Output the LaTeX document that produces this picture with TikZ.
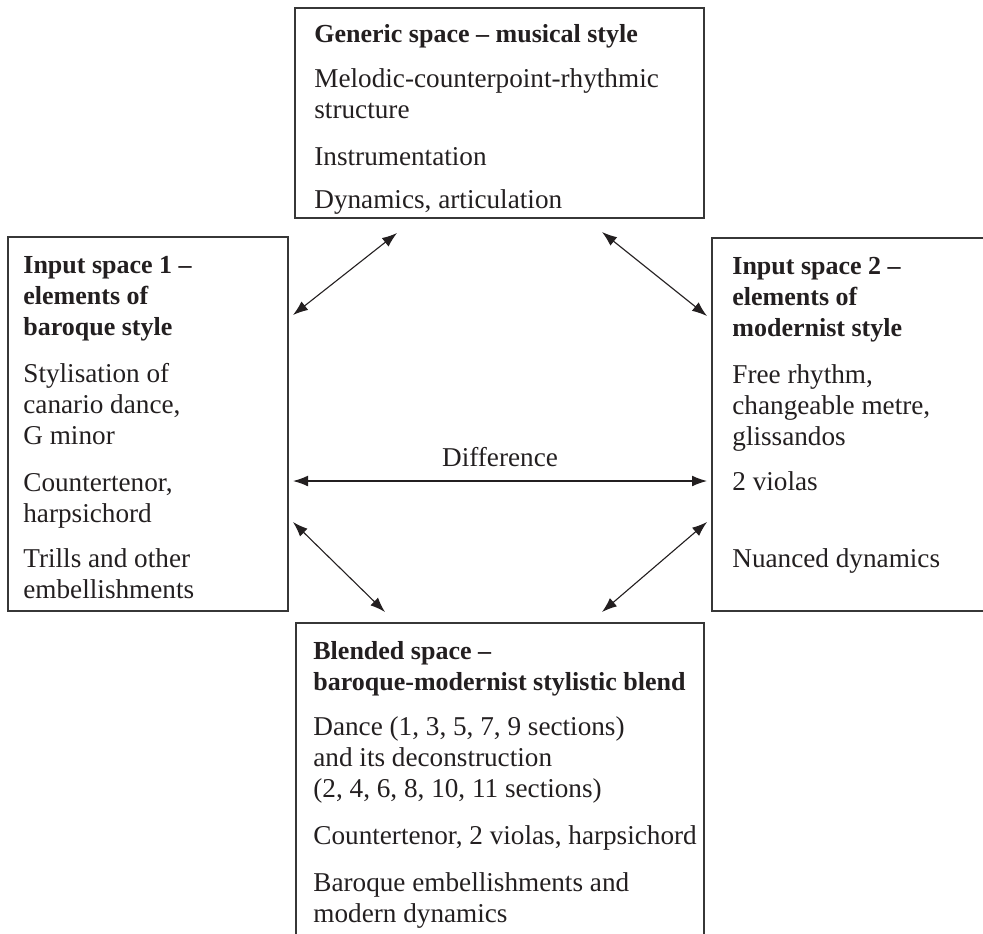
\documentclass[tikz,border=0pt]{standalone}
\usepackage{fontspec}
\setmainfont{Liberation Serif}
\usepackage{xcolor}
\usepackage{tikz}
\usetikzlibrary{arrows.meta}
\definecolor{inkcol}{RGB}{35,31,32}
\definecolor{framecol}{RGB}{55,55,55}
\newcommand{\spacehead}[1]{{\fontsize{13}{15.5}\selectfont\bfseries #1}}

\tikzset{
  spacetext/.style={anchor=base west, align=left, inner sep=0pt, text=inkcol,
    font=\fontsize{13.6}{15.5}\selectfont},
  spaceframe/.style={draw=framecol, line width=0.65pt},
  maplink/.style={draw=inkcol, line width=0.55pt,
    {Latex[length=7.5pt,width=5.4pt]}-{Latex[length=7.5pt,width=5.4pt]}}
}

\begin{document}
\begin{tikzpicture}[x=0.5pt, y=-0.5pt]
    \useasboundingbox (0,0) rectangle (983,933);
    \clip (0,0) rectangle (983,933);

    % Frames (input space 2 and the blend run off the page)
    \draw[spaceframe] (295,8) rectangle (704,218);
    \draw[spaceframe] (8,237) rectangle (288,611);
    \draw[spaceframe] (995,238) -- (712,238) -- (712,611) -- (995,611);
    \draw[spaceframe] (296,945) -- (296,623) -- (704,623) -- (704,945);

    % Generic space (placed by its last line)
    \node[spacetext] (generic) at (314,208) {\spacehead{Generic space – musical style}\\[7pt]
        Melodic-counterpoint-rhythmic\\ structure\\[8pt]
        Instrumentation\\[6pt]
        Dynamics, articulation};

    % Input spaces
    \node[spacetext] (inputone) at (23,598) {\spacehead{Input space 1 –}\\ \spacehead{elements of}\\ \spacehead{baroque style}\\[8pt]
        Stylisation of\\ canario dance,\\ G minor\\[8pt]
        Countertenor,\\ harpsichord\\[7pt]
        Trills and other\\ embellishments};
    \node[spacetext] (inputtwo) at (732,567) {\spacehead{Input space 2 –}\\ \spacehead{elements of}\\ \spacehead{modernist style}\\[8pt]
        Free rhythm,\\ changeable metre,\\ glissandos\\[7pt]
        2 violas\\[23pt]
        Nuanced dynamics};

    % Blended space
    \node[spacetext] (blend) at (313,922) {\spacehead{Blended space –}\\ \spacehead{baroque-modernist stylistic blend}\\[7pt]
        Dance (1, 3, 5, 7, 9 sections)\\ and its deconstruction\\ (2, 4, 6, 8, 10, 11 sections)\\[8pt]
        Countertenor, 2 violas, harpsichord\\[8pt]
        Baroque embellishments and\\ modern dynamics};

    % Arrow ends
    \coordinate (genL) at (397,233);
    \coordinate (genR) at (602,232);
    \coordinate (oneT) at (293,315);
    \coordinate (oneM) at (293,481);
    \coordinate (oneB) at (293,522);
    \coordinate (twoT) at (707,316);
    \coordinate (twoM) at (707,481);
    \coordinate (twoB) at (707,522);
    \coordinate (blendL) at (385,612);
    \coordinate (blendR) at (602,612);

    % Mappings
    \draw[maplink] (oneT) -- (genL);
    \draw[maplink] (genR) -- (twoT);
    \draw[maplink] (oneM) -- node[anchor=south, inner sep=7pt, text=inkcol,
        font=\fontsize{13.6}{15.5}\selectfont] (diff) {Difference} (twoM);
    \draw[maplink] (oneB) -- (blendL);
    \draw[maplink] (twoB) -- (blendR);
\end{tikzpicture}
\end{document}
